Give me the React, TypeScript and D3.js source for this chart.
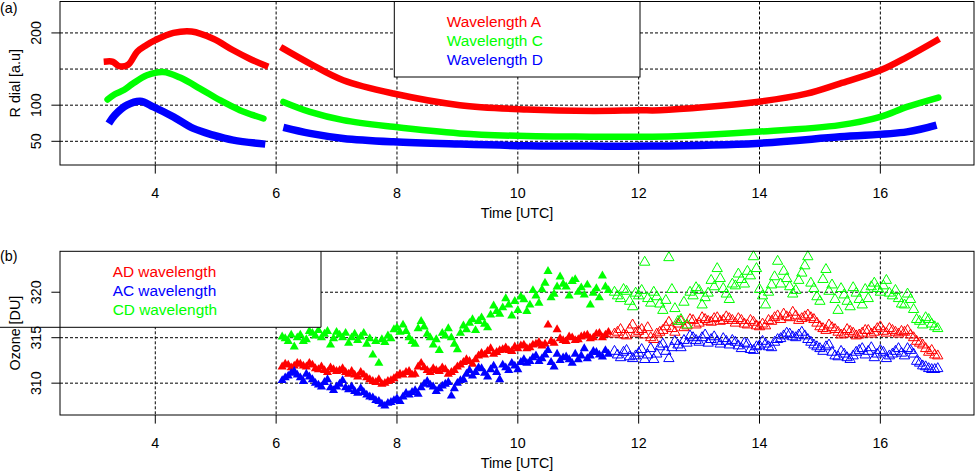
import * as d3 from "d3";

// ---- panel (a): R dial, two segments per wavelength ----
const timeA1 = [3.2, 3.3, 3.4, 3.55, 3.7, 3.85, 4.0, 4.3, 4.6, 4.96, 5.29, 5.57, 5.82];
const dialA1 = [160.5, 160, 154, 156, 174, 183, 190, 200, 202, 192, 176, 164, 155];
const timeA2 = [6.12, 6.56, 7.11, 7.94, 9.04, 10.15, 11.25, 12.0, 12.35, 13.95, 14.78, 15.33, 16.0, 16.44, 16.93];
const dialA2 = [178.2, 157.5, 134.5, 116.1, 100, 94, 92.1, 93, 93, 104.5, 116, 129.9, 148.2, 166.6, 189.6];

const timeC1 = [3.21, 3.33, 3.48, 3.63, 3.86, 4.13, 4.41, 4.74, 5.07, 5.4, 5.79];
const dialC1 = [107.8, 115.1, 121, 129.9, 141.3, 145.9, 138.2, 123, 106.9, 93.1, 81.6];
const timeC2 = [6.12, 6.56, 7.11, 7.94, 9.04, 10.15, 11.2, 12.0, 12.6, 13.95, 15.33, 16.0, 16.44, 16.96];
const dialC2 = [104.5, 90.7, 79.3, 70, 60.9, 57.2, 56.4, 56.2, 57, 63.1, 72.4, 83.8, 97.6, 110.6];

const timeD1 = [3.23, 3.33, 3.53, 3.75, 3.97, 4.3, 4.63, 4.96, 5.29, 5.82];
const dialD1 = [74.7, 86.2, 100, 105.5, 97.6, 83.8, 67.8, 58.6, 51.7, 46.1];
const timeD2 = [6.12, 6.56, 7.11, 7.94, 9.04, 10.15, 11.2, 12.2, 13.95, 15.33, 16.44, 16.93];
const dialD2 = [69.2, 60.9, 54, 49.3, 46.1, 43.8, 43.4, 43.4, 47.1, 56.2, 63.1, 72.4];

// ---- panel (b): ozone, filled (morning) then open (afternoon) triangles ----
const timeFilled = [
  6.1, 6.2, 6.3, 6.4, 6.5, 6.6, 6.7, 6.8, 6.9, 7.0,
  7.1, 7.2, 7.3, 7.4, 7.5, 7.6, 7.7, 7.8, 7.9, 8.0,
  8.1, 8.2, 8.3, 8.4, 8.5, 8.6, 8.7, 8.8, 8.9, 9.0,
  9.1, 9.2, 9.3, 9.4, 9.5, 9.6, 9.7, 9.8, 9.9, 10.0,
  10.1, 10.2, 10.3, 10.4, 10.5, 10.6, 10.7, 10.8, 10.9, 11.0,
  11.1, 11.2, 11.3, 11.4, 11.5,
];
const adFilled = [
  311.8, 312.0, 311.9, 312.1, 311.8, 312.0, 311.5, 311.4, 311.7, 311.3,
  311.6, 311.0, 310.9, 311.2, 310.6, 310.2, 310.4, 310.0, 310.3, 310.8,
  310.9, 311.3, 311.0, 312.2, 311.4, 311.6, 311.3, 311.5, 311.2, 311.8,
  312.3, 312.4, 312.6, 313.3, 313.5, 313.2, 313.6, 313.9, 313.5, 313.8,
  314.2, 313.9, 314.3, 314.1, 316.4, 314.4, 314.9, 314.6, 315.0, 314.8,
  315.2, 314.9, 315.4, 315.0, 315.6,
];
const acFilled = [
  310.3, 310.8, 311.3, 310.6, 311.0, 310.4, 309.8, 310.1, 309.5, 309.6,
  310.3, 309.3, 309.1, 309.4, 308.7, 308.4, 308.0, 307.5, 307.9, 308.3,
  308.5, 308.7, 309.2, 309.5, 310.2, 309.6, 309.4, 309.9, 308.6, 310.0,
  310.4, 311.4, 311.2, 311.6, 310.7, 311.9, 310.4, 311.7, 312.2, 311.5,
  312.6, 312.4, 313.0, 312.7, 313.6, 311.8, 312.5, 312.9, 312.2, 312.6,
  313.8, 313.0, 313.4, 312.9, 313.2,
];
const cdFilled = [
  315.1, 314.6, 314.0, 315.3, 314.8, 315.5, 315.8, 315.4, 314.2, 315.6,
  315.0, 314.4, 315.4, 315.1, 314.3, 313.1, 312.2, 314.5, 314.9, 316.1,
  316.4, 315.0, 314.3, 316.8, 315.4, 314.2, 313.6, 315.2, 315.0, 313.7,
  316.3, 316.6, 315.8, 317.2, 316.1, 318.5, 317.6, 319.3, 317.4, 318.0,
  319.2, 318.6, 319.6, 320.3, 322.3, 319.8, 321.7, 320.6, 321.2, 320.0,
  319.7, 318.6, 320.4, 321.8, 320.2,
];

// readings between the ones above
const timeFilled2 = [
  6.15, 6.25, 6.35, 6.45, 6.55, 6.65, 6.75, 6.85, 6.95, 7.05,
  7.15, 7.25, 7.35, 7.45, 7.55, 7.65, 7.75, 7.85, 7.95, 8.05,
  8.15, 8.25, 8.35, 8.45, 8.55, 8.65, 8.75, 8.85, 8.95, 9.05,
  9.15, 9.25, 9.35, 9.45, 9.55, 9.65, 9.75, 9.85, 9.95, 10.05,
  10.15, 10.25, 10.35, 10.45, 10.55, 10.65, 10.75, 10.85, 10.95, 11.05,
  11.15, 11.25, 11.35, 11.45,
];
const adFilled2 = [
  312.1, 311.7, 312.2, 311.9, 312.2, 311.6, 311.8, 311.2, 311.5, 311.4,
  311.2, 311.3, 310.7, 310.9, 310.4, 310.1, 309.9, 310.2, 310.5, 311.0,
  311.2, 310.9, 311.8, 311.7, 311.2, 311.4, 311.7, 311.0, 311.4, 312.0,
  312.6, 312.1, 313.0, 313.1, 313.8, 313.4, 313.7, 313.6, 314.0, 314.1,
  313.8, 314.2, 314.5, 314.3, 314.6, 315.9, 314.7, 315.1, 314.7, 315.1,
  315.3, 315.0, 315.5, 315.3,
];
const acFilled2 = [
  310.6, 311.1, 310.9, 310.2, 310.7, 310.0, 309.6, 310.4, 309.2, 309.9,
  309.5, 309.6, 308.9, 309.0, 308.5, 308.1, 307.7, 307.8, 308.1, 308.0,
  308.9, 309.0, 308.8, 309.9, 309.8, 309.1, 309.7, 310.1, 309.4, 310.3,
  311.0, 310.8, 311.7, 311.1, 311.5, 311.2, 312.0, 311.4, 311.9, 312.3,
  312.2, 312.8, 312.4, 313.1, 312.3, 313.2, 312.8, 312.6, 313.2, 313.0,
  312.7, 313.5, 313.1, 313.6,
];
const cdFilled2 = [
  314.9, 315.3, 315.0, 314.6, 315.7, 315.2, 315.0, 315.7, 314.9, 315.3,
  315.5, 315.0, 314.7, 315.5, 314.9, 314.6, 314.8, 315.2, 315.9, 315.6,
  315.7, 314.6, 316.0, 316.2, 315.0, 314.8, 315.5, 316.0, 314.3, 315.5,
  315.9, 317.0, 316.8, 316.5, 317.5, 317.9, 318.3, 318.6, 319.0, 319.5,
  317.9, 320.2, 318.8, 321.0, 319.4, 320.6, 320.9, 319.6, 321.4, 320.5,
  320.8, 319.9, 319.4, 320.6,
];

const timeOpen = [
  11.6, 11.7, 11.8, 11.9, 12.0, 12.1, 12.2, 12.3, 12.4, 12.5,
  12.6, 12.7, 12.8, 12.9, 13.0, 13.1, 13.2, 13.3, 13.4, 13.5,
  13.6, 13.7, 13.8, 13.9, 14.0, 14.1, 14.2, 14.3, 14.4, 14.5,
  14.6, 14.7, 14.8, 14.9, 15.0, 15.1, 15.2, 15.3, 15.4, 15.5,
  15.6, 15.7, 15.8, 15.9, 16.0, 16.1, 16.2, 16.3, 16.4, 16.5,
  16.6, 16.7, 16.8, 16.9,
];
const adOpen = [
  315.4, 315.9, 315.2, 316.4, 315.7, 315.3, 315.0, 315.4, 315.8, 316.7,
  315.6, 316.8, 316.3, 316.9, 316.6, 317.0, 316.7, 317.2, 316.9, 317.1,
  316.6, 316.9, 316.4, 316.7, 316.2, 316.3, 316.8, 317.4, 317.6, 317.2,
  317.4, 317.1, 317.5, 317.0, 316.2, 315.8, 316.1, 315.6, 315.4, 315.7,
  315.2, 315.5, 315.8, 315.6, 316.2, 315.5, 315.8, 315.4, 315.6, 315.3,
  314.6, 314.2, 313.4, 313.1,
];
const acOpen = [
  313.5, 312.8, 313.6, 312.7, 313.3, 312.6, 313.8, 313.2, 314.3, 312.7,
  314.6, 313.9, 314.4, 315.0, 314.5, 315.3, 314.8, 314.6, 314.9, 314.2,
  314.5, 313.8, 314.3, 313.6, 314.1, 314.3, 313.9, 314.8, 315.2, 315.4,
  315.0, 315.6, 314.8, 314.2, 313.8, 314.0, 313.4, 312.9, 313.2, 312.6,
  313.4, 313.8, 313.5, 312.8, 313.6, 312.7, 313.2, 313.8, 313.0, 313.6,
  312.4, 311.9, 311.6, 311.5,
];
const cdOpen = [
  320.0, 319.3, 320.1, 318.4, 319.6, 323.3, 318.8, 319.5, 318.0, 323.8,
  318.2, 317.0, 316.4, 319.6, 320.2, 319.4, 321.3, 322.6, 320.4, 319.2,
  320.7, 321.4, 322.3, 323.9, 320.3, 318.6, 320.8, 323.4, 322.3, 320.6,
  320.2, 322.1, 323.9, 320.4, 319.0, 322.5, 320.8, 318.0, 319.7, 318.4,
  319.9, 318.6, 319.3, 321.0, 320.0, 321.3, 319.6, 319.3, 318.6, 319.2,
  317.0, 316.4, 317.0, 316.2,
];

const timeOpen2 = [
  11.65, 11.75, 11.85, 11.95, 12.05, 12.15, 12.25, 12.35, 12.45, 12.55,
  12.65, 12.75, 12.85, 12.95, 13.05, 13.15, 13.25, 13.35, 13.45, 13.55,
  13.65, 13.75, 13.85, 13.95, 14.05, 14.15, 14.25, 14.35, 14.45, 14.55,
  14.65, 14.75, 14.85, 14.95, 15.05, 15.15, 15.25, 15.35, 15.45, 15.55,
  15.65, 15.75, 15.85, 15.95, 16.05, 16.15, 16.25, 16.35, 16.45, 16.55,
  16.65, 16.75, 16.85, 16.95,
];
const adOpen2 = [
  315.6, 315.3, 315.9, 315.5, 315.9, 316.1, 314.8, 315.6, 316.2, 316.0,
  316.5, 316.1, 317.0, 316.4, 317.2, 316.8, 317.1, 316.8, 317.3, 316.9,
  317.1, 316.5, 316.9, 316.3, 316.5, 316.9, 317.2, 317.0, 317.3, 317.8,
  316.9, 317.3, 317.2, 316.6, 316.0, 316.4, 315.9, 315.3, 315.9, 315.5,
  315.3, 315.8, 315.4, 316.0, 315.7, 316.0, 315.6, 315.7, 315.8, 315.0,
  314.4, 313.8, 313.6, 313.0,
];
const acOpen2 = [
  313.1, 313.4, 312.9, 313.0, 313.7, 313.1, 312.6, 314.0, 313.5, 313.9,
  314.2, 314.7, 315.2, 314.7, 315.0, 314.4, 315.1, 314.3, 314.6, 314.7,
  314.1, 314.4, 313.7, 314.0, 314.6, 314.0, 314.5, 314.9, 315.5, 315.1,
  315.3, 315.2, 314.5, 314.0, 313.5, 314.2, 313.0, 313.5, 312.8, 313.0,
  313.6, 313.1, 313.9, 313.2, 313.4, 313.0, 313.5, 313.3, 313.8, 313.2,
  312.2, 311.8, 311.5, 311.6,
];
const cdOpen2 = [
  319.6, 320.3, 319.0, 319.9, 320.2, 319.3, 320.0, 318.7, 319.1, 320.3,
  316.8, 318.9, 320.0, 320.5, 318.6, 319.9, 320.6, 321.5, 319.8, 320.9,
  322.0, 320.9, 321.8, 322.6, 319.6, 320.0, 321.7, 320.9, 321.5, 319.8,
  321.3, 322.9, 321.0, 319.5, 321.4, 320.1, 319.2, 320.4, 319.0, 320.5,
  319.2, 320.3, 320.6, 320.4, 320.7, 319.9, 320.2, 318.7, 319.8, 318.1,
  316.8, 317.2, 316.5, 316.0,
];

const xTicks = [4, 6, 8, 10, 12, 14, 16];
const yTicksA = [50, 100, 200];
const yGridA = [50, 100, 150, 200];
const yTicksB = [310, 315, 320];
const legendA = ["Wavelength A", "Wavelength C", "Wavelength D"];
const legendB = ["AD wavelength", "AC wavelength", "CD wavelength"];

const RED = "#FF0000";
const GREEN = "#00FF00";
const BLUE = "#0000FF";
const FONT = "'Liberation Sans', Arial, sans-serif";

const L = 60;
const R = 974;
const aTop = 1.5;
const aBot = 165;
const bTop = 251.3;
const bBot = 415;

const x = d3.scaleLinear().domain([2.423, 17.55]).range([L, R]);
const yA = d3.scaleLinear().domain([17.2, 243.5]).range([aBot, aTop]);
const yB = d3.scaleLinear().domain([306.5, 324.5]).range([bBot, bTop]);

const triFilled = d3.symbol(d3.symbolTriangle, 36)()!;
const triOpen = d3.symbol(d3.symbolTriangle, 46)()!;

function band(ts: number[], vs: number[]) {
  const line = d3
    .line<number>()
    .x((_, i) => x(ts[i]))
    .y((v) => yA(v))
    .curve(d3.curveCatmullRom.alpha(0.5));
  return line(vs) || "";
}

function Grid({ top, bot, ys, y }: { top: number; bot: number; ys: number[]; y: d3.ScaleLinear<number, number> }) {
  return (
    <g stroke="#000" strokeWidth={1} strokeDasharray="3,2" fill="none">
      {xTicks.map((t) => (
        <line key={"v" + t} x1={x(t)} x2={x(t)} y1={top} y2={bot} />
      ))}
      {ys.map((v) => (
        <line key={"h" + v} x1={L} x2={R} y1={y(v)} y2={y(v)} />
      ))}
    </g>
  );
}

function XAxis({ bot }: { bot: number }) {
  return (
    <g fontFamily={FONT} fontSize={14.3} fill="#000">
      {xTicks.map((t) => (
        <g key={t}>
          <line x1={x(t)} x2={x(t)} y1={bot} y2={bot + 8.6} stroke="#000" />
          <text x={x(t)} y={bot + 33} textAnchor="middle">
            {t}
          </text>
        </g>
      ))}
      <text x={(L + R) / 2} y={bot + 53} textAnchor="middle">
        Time [UTC]
      </text>
    </g>
  );
}

function YAxis({ ticks, y, title, mid }: { ticks: number[]; y: d3.ScaleLinear<number, number>; title: string; mid: number }) {
  return (
    <g fontFamily={FONT} fontSize={14.3} fill="#000">
      {ticks.map((v) => (
        <g key={v}>
          <line x1={L - 8.6} x2={L} y1={y(v)} y2={y(v)} stroke="#000" />
          <text transform={`translate(40.5,${y(v)}) rotate(-90)`} textAnchor="middle">
            {v}
          </text>
        </g>
      ))}
      <text transform={`translate(19.5,${mid}) rotate(-90)`} textAnchor="middle">
        {title}
      </text>
    </g>
  );
}

function Points({ ts, vs, color, open }: { ts: number[]; vs: number[]; color: string; open: boolean }) {
  return (
    <g>
      {vs.map((v, i) => (
        <path
          key={i}
          d={open ? triOpen : triFilled}
          transform={`translate(${x(ts[i])},${yB(v)})`}
          fill={open ? "none" : color}
          stroke={open ? color : "none"}
          strokeWidth={1}
        />
      ))}
    </g>
  );
}

export default function App() {
  const bands = [
    { d: band(timeA1, dialA1), c: RED, w: 6.5, cap: "square" },
    { d: band(timeA2, dialA2), c: RED, w: 6.5, cap: "square" },
    { d: band(timeC1, dialC1), c: GREEN, w: 6.5, cap: "round" },
    { d: band(timeC2, dialC2), c: GREEN, w: 6.5, cap: "round" },
    { d: band(timeD1, dialD1), c: BLUE, w: 7.5, cap: "butt" },
    { d: band(timeD2, dialD2), c: BLUE, w: 7.5, cap: "butt" },
  ];
  const legendColorsA = [RED, GREEN, BLUE];
  const legendColorsB = [RED, BLUE, GREEN];

  return (
    <>
      <style>{`body{margin:0;background:#fff}`}</style>
      <svg width={976} height={472} style={{ display: "block" }}>
        <rect width={976} height={472} fill="#fff" />

        {/* ---------- panel (a) ---------- */}
        <Grid top={aTop} bot={aBot} ys={yGridA} y={yA} />
        {bands.map((b, i) => (
          <path
            key={i}
            d={b.d}
            fill="none"
            stroke={b.c}
            strokeWidth={b.w}
            strokeLinecap={b.cap as any}
            strokeLinejoin="round"
          />
        ))}
        <rect x={394.3} y={aTop} width={640 - 394.3} height={77 - aTop} fill="#fff" stroke="#000" />
        <g fontFamily={FONT} fontSize={15.4}>
          {legendA.map((s, i) => (
            <text key={s} x={446.7} y={26.5 + i * 19} fill={legendColorsA[i]}>
              {s}
            </text>
          ))}
        </g>
        <rect x={L} y={aTop} width={R - L} height={aBot - aTop} fill="none" stroke="#000" />
        <XAxis bot={aBot} />
        <YAxis ticks={yTicksA} y={yA} title="R dial [a.u]" mid={(aTop + aBot) / 2} />
        <text x={0} y={12.5} fontFamily={FONT} fontSize={14.3}>
          (a)
        </text>

        {/* ---------- panel (b) ---------- */}
        <Grid top={bTop} bot={bBot} ys={yTicksB} y={yB} />
        <Points ts={timeFilled} vs={adFilled} color={RED} open={false} />
        <Points ts={timeFilled2} vs={adFilled2} color={RED} open={false} />
        <Points ts={timeOpen} vs={adOpen} color={RED} open={true} />
        <Points ts={timeOpen2} vs={adOpen2} color={RED} open={true} />
        <Points ts={timeFilled} vs={acFilled} color={BLUE} open={false} />
        <Points ts={timeFilled2} vs={acFilled2} color={BLUE} open={false} />
        <Points ts={timeOpen} vs={acOpen} color={BLUE} open={true} />
        <Points ts={timeOpen2} vs={acOpen2} color={BLUE} open={true} />
        <Points ts={timeFilled} vs={cdFilled} color={GREEN} open={false} />
        <Points ts={timeFilled2} vs={cdFilled2} color={GREEN} open={false} />
        <Points ts={timeOpen} vs={cdOpen} color={GREEN} open={true} />
        <Points ts={timeOpen2} vs={cdOpen2} color={GREEN} open={true} />
        <rect x={0} y={240} width={321} height={327.3 - 240} fill="#fff" />
        <line x1={0} x2={321} y1={327.3} y2={327.3} stroke="#000" />
        <line x1={321} x2={321} y1={bTop} y2={327.3} stroke="#000" />
        <g fontFamily={FONT} fontSize={15.4}>
          {legendB.map((s, i) => (
            <text key={s} x={112.7} y={276.5 + i * 19} fill={legendColorsB[i]}>
              {s}
            </text>
          ))}
        </g>
        <rect x={L} y={bTop} width={R - L} height={bBot - bTop} fill="none" stroke="#000" />
        <XAxis bot={bBot} />
        <YAxis ticks={yTicksB} y={yB} title="Ozone [DU]" mid={(bTop + bBot) / 2} />
        <text x={0} y={261} fontFamily={FONT} fontSize={14.3}>
          (b)
        </text>
      </svg>
    </>
  );
}
